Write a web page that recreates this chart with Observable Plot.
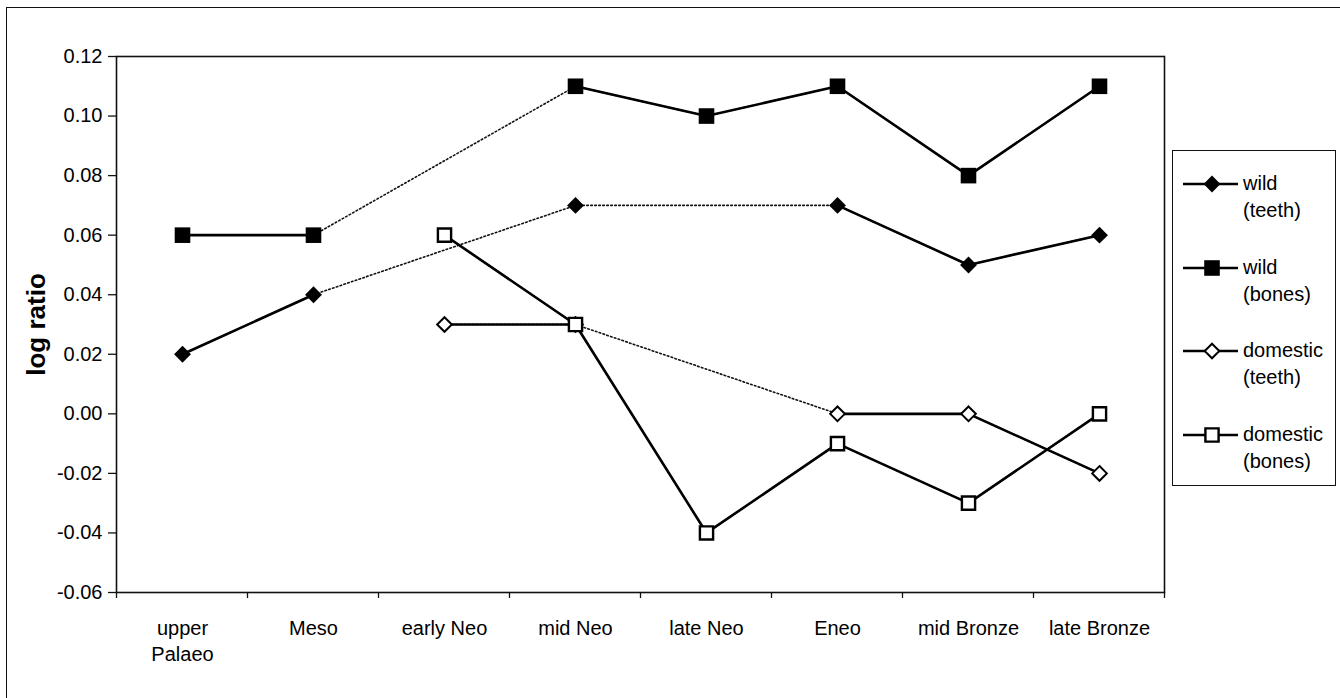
<!DOCTYPE html>
<html>
<head>
<meta charset="utf-8">
<script src="https://cdn.jsdelivr.net/npm/d3@7"></script>
<script src="https://cdn.jsdelivr.net/npm/@observablehq/plot@0.6"></script>
<style>
  html, body { margin: 0; padding: 0; background: #fff; overflow: hidden; }
  body { width: 1340px; height: 698px; position: relative; font-family: "Liberation Sans", Arial, sans-serif; }
  #outer { position: absolute; left: 6px; top: 7px; width: 1400px; height: 800px; border-left: 1.5px solid #111; border-top: 1.5px solid #111; }
  #chart { position: absolute; left: 0; top: 0; }
  #legend { position: absolute; left: 1172px; top: 150px; width: 164px; height: 336px; border: 1.2px solid #111; background: #fff; box-sizing: border-box; }
  .entry { position: absolute; left: 0; width: 164px; height: 60px; }
  .entry svg { position: absolute; left: 9px; top: 0; }
  .entry .lab { position: absolute; left: 70px; top: 0; font-size: 20px; line-height: 27px; color: #000; }
</style>
</head>
<body>
<div id="outer"></div>
<div id="chart"></div>
<div id="legend"></div>
<script>
// ---- data ----
const categories = ["upper Palaeo", "Meso", "early Neo", "mid Neo", "late Neo", "Eneo", "mid Bronze", "late Bronze"];
const tickLabels = ["upper\nPalaeo", "Meso", "early Neo", "mid Neo", "late Neo", "Eneo", "mid Bronze", "late Bronze"];
const seriesNames = ["wild\n(teeth)", "wild\n(bones)", "domestic\n(teeth)", "domestic\n(bones)"];
const wildTeeth      = [0.02, 0.04, null, 0.07, null, 0.07, 0.05, 0.06];
const wildBones      = [0.06, 0.06, null, 0.11, 0.10, 0.11, 0.08, 0.11];
const domesticTeeth  = [null, null, 0.03, 0.03, null, 0.00, 0.00, -0.02];
const domesticBones  = [null, null, 0.06, 0.03, -0.04, -0.01, -0.03, 0.00];
const yTicks = [-0.06, -0.04, -0.02, 0.00, 0.02, 0.04, 0.06, 0.08, 0.10, 0.12];
const yLabel = "log ratio";

// ---- build table ----
const seriesValues = [wildTeeth, wildBones, domesticTeeth, domesticBones];
const rows = [];
seriesValues.forEach((vals, s) => {
  vals.forEach((v, i) => rows.push({series: seriesNames[s], cat: categories[i], value: v}));
});
const defined = rows.filter(d => d.value != null);

const styles = [
  {symbol: "diamond2", fill: "black", r: 7.6, sw: 0},
  {symbol: "square", fill: "black", r: 8.8, sw: 0},
  {symbol: "diamond2", fill: "white", r: 6.6, sw: 2},
  {symbol: "square2", fill: "white", r: 8.4, sw: 2.4}
];

const W = 1340, H = 698;
const mL = 116, mR = 176, mT = 56, mB = 106;

const boundaryTicks = (index, scales, values, dims) => {
  const x = scales.x;
  const step = x(categories[1]) - x(categories[0]);
  const bounds = categories.map(c => x(c) - step / 2);
  bounds.push(x(categories[categories.length - 1]) + step / 2);
  const yb = dims.height - dims.marginBottom;
  const g = d3.create("svg:g");
  g.selectAll("line").data(bounds).join("line")
    .attr("x1", d => d).attr("x2", d => d)
    .attr("y1", yb).attr("y2", yb + 6)
    .attr("stroke", "#111").attr("stroke-width", 1.3);
  return g.node();
};

const marks = [
  Plot.frame({stroke: "#111", strokeWidth: 1.6}),
  Plot.axisY({ticks: yTicks, tickSize: 8, tickPadding: 6, tickFormat: d => d.toFixed(2), fontSize: 20, label: null, stroke: "#111", strokeWidth: 1.3, color: "#000"}),
  Plot.axisX({tickSize: 0, tickPadding: 24, fontSize: 20, lineHeight: 1.3, label: null, tickFormat: (d, i) => tickLabels[categories.indexOf(d)], color: "#000"}),
  boundaryTicks,
  Plot.text([yLabel], {frameAnchor: "left", textAnchor: "middle", rotate: -90, dx: -80, fontSize: 26, fontWeight: "bold", fill: "#000"}),
  Plot.line(defined, {x: "cat", y: "value", z: "series", stroke: "#111", strokeWidth: 1.6, strokeDasharray: "1.6,2.4"}),
  Plot.line(rows, {x: "cat", y: "value", z: "series", stroke: "#000", strokeWidth: 2.6})
];
seriesNames.forEach((name, s) => {
  const st = styles[s];
  marks.push(Plot.dot(defined.filter(d => d.series === name), {
    x: "cat", y: "value", symbol: st.symbol, r: st.r,
    fill: st.fill, stroke: "#000", strokeWidth: st.sw
  }));
});

const chart = Plot.plot({
  width: W, height: H,
  marginLeft: mL, marginRight: mR, marginTop: mT, marginBottom: mB,
  style: {fontFamily: "'Liberation Sans', Arial, sans-serif", background: "transparent", color: "#000"},
  x: {type: "point", domain: categories, padding: 0.5},
  y: {domain: [-0.06, 0.12]},
  marks
});
document.getElementById("chart").appendChild(chart);

// ---- legend ----
const legend = document.getElementById("legend");
const symbolMap = {diamond2: d3.symbolDiamond2, square: d3.symbolSquare, square2: d3.symbolSquare2};
seriesNames.forEach((name, s) => {
  const st = styles[s];
  const e = document.createElement("div");
  e.className = "entry";
  e.style.top = (19 + s * 83.5) + "px";
  const svg = d3.create("svg").attr("width", 58).attr("height", 28);
  svg.append("line").attr("x1", 1).attr("x2", 56).attr("y1", 14).attr("y2", 14).attr("stroke", "#000").attr("stroke-width", 2.6);
  svg.append("path")
    .attr("d", d3.symbol(symbolMap[st.symbol], Math.PI * st.r * st.r)())
    .attr("transform", "translate(30,14)")
    .attr("fill", st.fill).attr("stroke", "#000").attr("stroke-width", st.sw);
  e.appendChild(svg.node());
  const lab = document.createElement("div");
  lab.className = "lab";
  lab.innerHTML = name.split("\n").join("<br>");
  e.appendChild(lab);
  legend.appendChild(e);
});
</script>
</body>
</html>
